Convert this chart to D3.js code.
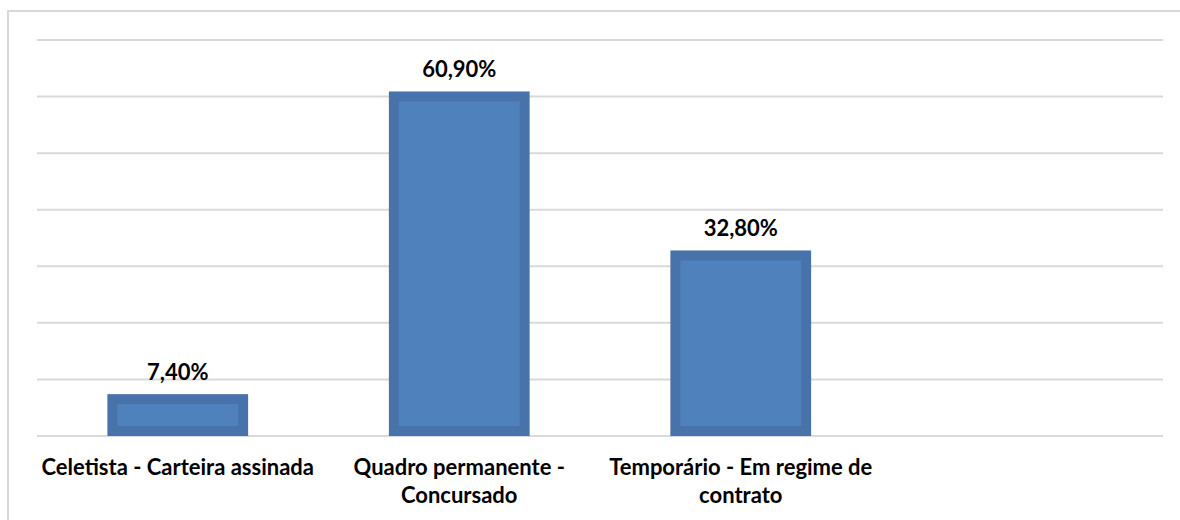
<!DOCTYPE html>
<html>
<head>
<meta charset="utf-8">
<script src="https://cdn.jsdelivr.net/npm/d3@7"></script>
<style>
  body { margin: 0; background: #fff; }
  svg { display: block; }
</style>
</head>
<body>
<svg id="canvas" width="1180" height="520"></svg>
<script>
// chart data
let categories = ['Celetista - Carteira assinada', 'Quadro permanente - Concursado', 'Temporário - Em regime de contrato', '']
let values = [7.4, 60.9, 32.8]
let valueLabels = ['7,40%', '60,90%', '32,80%']
let gridTicks = [0, 10, 20, 30, 40, 50, 60, 70]

let canvas = d3.select('#canvas')
let margin = { left: 37, right: 17, top: 40, bottom: 84 }
let width = 1180
let height = 520

let x = d3.scaleBand()
    .domain(categories)
    .range([margin.left, width - margin.right])
    .paddingInner(0.5)
    .paddingOuter(0.25)

let y = d3.scaleLinear()
    .domain([0, 70])
    .range([height - margin.bottom, margin.top])

// frame of the chart area (only left and top edges are visible)
canvas.append('path')
    .attr('d', 'M8,' + (height + 5) + ' L8,11 L' + (width + 5) + ',11')
    .attr('fill', 'none')
    .attr('stroke', '#d9d9d9')
    .attr('stroke-width', 2)

// gridlines
canvas.append('g')
    .selectAll('line')
    .data(gridTicks)
    .enter()
    .append('line')
    .attr('x1', margin.left)
    .attr('x2', width - margin.right)
    .attr('y1', (d) => y(d))
    .attr('y2', (d) => y(d))
    .attr('stroke', '#d9d9d9')
    .attr('stroke-width', 2)

let data = values.map((v, i) => ({ cat: categories[i], value: v, label: valueLabels[i] }))

// bars: darker rim + lighter inside
let bw = 10
canvas.append('g')
    .selectAll('rect')
    .data(data)
    .enter()
    .append('rect')
    .attr('x', (d) => x(d.cat) + bw / 2)
    .attr('y', (d) => y(d.value) + bw / 2)
    .attr('width', x.bandwidth() - bw)
    .attr('height', (d) => y(0) - y(d.value) - bw)
    .attr('fill', '#4f81bd')
    .attr('stroke', '#4872aa')
    .attr('stroke-width', bw)

// value labels
canvas.append('g')
    .selectAll('text')
    .data(data)
    .enter()
    .append('text')
    .attr('x', (d) => x(d.cat) + x.bandwidth() / 2)
    .attr('y', (d) => y(d.value) - 14)
    .attr('text-anchor', 'middle')
    .style('font-family', 'Lato, "Liberation Sans", sans-serif')
    .style('font-weight', 'bold')
    .style('font-size', '22px')
    .style('fill', '#000')
    .text((d) => d.label)

// category labels, wrapped to band step
let catG = canvas.append('g')
categories.filter((c) => c !== '').forEach((c) => {
    let cx = x(c) + x.bandwidth() / 2
    let t = catG.append('text')
        .attr('text-anchor', 'middle')
        .style('font-family', 'Lato, "Liberation Sans", sans-serif')
        .style('font-weight', 'bold')
        .style('font-size', '22px')
        .style('fill', '#000')
    let words = c.split(' ')
    let lines = []
    let line = []
    let probe = t.append('tspan')
    words.forEach((w) => {
        line.push(w)
        probe.text(line.join(' '))
        if (probe.node().getComputedTextLength() > x.step() - 2 && line.length > 1) {
            line.pop()
            lines.push(line.join(' '))
            line = [w]
        }
    })
    lines.push(line.join(' '))
    probe.remove()
    lines.forEach((l, i) => {
        t.append('tspan')
            .attr('x', cx)
            .attr('y', y(0) + 39 + i * 28)
            .text(l)
    })
})
</script>
</body>
</html>
